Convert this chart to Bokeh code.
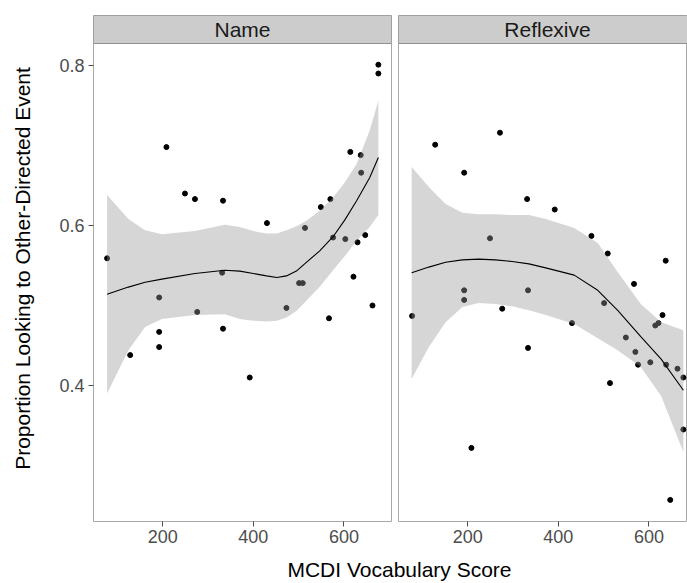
from bokeh.plotting import figure
from bokeh.models import Range1d, FixedTicker, Label
from bokeh.layouts import row, column
from bokeh.embed import file_html
from bokeh.resources import INLINE

FONT = "Liberation Sans"

# ---- data ----
vocab = [77, 128, 192, 192, 192, 208, 249, 271, 276, 331, 333, 333, 392, 430, 473, 501,
         509, 514, 549, 567, 570, 576, 603, 614, 621, 630, 637, 638, 647, 663, 676, 676]
name_prop = [0.559, 0.438, 0.510, 0.467, 0.448, 0.698, 0.640, 0.633, 0.492, 0.541, 0.631,
             0.471, 0.410, 0.603, 0.497, 0.528, 0.528, 0.597, 0.623, 0.484, 0.633, 0.585,
             0.583, 0.692, 0.536, 0.579, 0.688, 0.666, 0.588, 0.500, 0.801, 0.790]
refl_prop = [0.487, 0.701, 0.666, 0.519, 0.507, 0.322, 0.584, 0.716, 0.496, 0.633, 0.519,
             0.447, 0.620, 0.478, 0.587, 0.503, 0.565, 0.403, 0.460, 0.527, 0.442, 0.426,
             0.429, 0.475, 0.478, 0.488, 0.556, 0.426, 0.257, 0.421, 0.410, 0.345]

# smoother (fit and confidence band)
name_sx = [77, 124, 161, 198, 271, 337, 370, 400, 429, 452, 473, 495, 517, 546, 576, 602, 628, 657, 676]
name_fit = [0.514, 0.523, 0.529, 0.533, 0.540, 0.544, 0.543, 0.540, 0.537, 0.535, 0.537, 0.543, 0.554, 0.568, 0.586, 0.607, 0.631, 0.660, 0.685]
name_hi = [0.638, 0.608, 0.594, 0.589, 0.593, 0.601, 0.598, 0.593, 0.590, 0.590, 0.594, 0.599, 0.606, 0.618, 0.635, 0.654, 0.677, 0.719, 0.756]
name_lo = [0.390, 0.444, 0.473, 0.483, 0.488, 0.489, 0.483, 0.481, 0.480, 0.481, 0.485, 0.493, 0.506, 0.523, 0.544, 0.562, 0.581, 0.598, 0.613]

refl_sx = [76, 114, 151, 188, 224, 261, 298, 335, 372, 435, 487, 531, 582, 627, 676]
refl_fit = [0.541, 0.548, 0.554, 0.557, 0.558, 0.557, 0.555, 0.552, 0.547, 0.538, 0.519, 0.494, 0.461, 0.433, 0.394]
refl_hi = [0.673, 0.648, 0.627, 0.616, 0.614, 0.614, 0.613, 0.613, 0.608, 0.597, 0.578, 0.542, 0.502, 0.479, 0.469]
refl_lo = [0.408, 0.448, 0.479, 0.498, 0.503, 0.502, 0.499, 0.494, 0.488, 0.477, 0.459, 0.444, 0.423, 0.387, 0.317]

panels = ["Name", "Reflexive"]
x_ticks = [200, 400, 600]
y_ticks = [0.4, 0.6, 0.8]

# ---- layout constants ----
X0, X1 = 47, 705
Y0, YP, Y1 = 0.23, 0.8275, 0.8625
FW = 298
PXU = FW / (X1 - X0)
FH = 506
TICK_COL = "#4d4d4d"
TICK_FS = "18px"


def make_panel(title, props, sx, fit, lo, hi, left_axis, frame_w):
    x_end = X0 + frame_w / PXU
    p = figure(frame_width=frame_w, frame_height=FH,
               x_range=Range1d(X0, x_end), y_range=Range1d(Y0, Y1),
               output_backend="svg", toolbar_location=None,
               y_axis_location="left" if left_axis else None,
               min_border_top=15, min_border_bottom=34,
               min_border_left=93 if left_axis else 4,
               min_border_right=3 if left_axis else 0)
    p.grid.visible = False
    p.outline_line_color = "#a8a8a8"
    p.outline_line_width = 1
    p.background_fill_color = "white"
    p.border_fill_color = "white"

    p.scatter(vocab, props, size=5, color="black")
    p.varea(x=sx, y1=lo, y2=hi, fill_color="#999999", fill_alpha=0.4)
    p.line(sx, fit, line_color="black", line_width=1.1)

    # strip
    p.quad(left=X0, right=x_end, bottom=YP, top=Y1,
           fill_color="#cccccc", line_color="#8f8f8f", line_width=1)
    p.add_layout(Label(x=(X0 + X1) / 2, y=(YP + Y1) / 2, text=title,
                       text_align="center", text_baseline="middle",
                       text_font=FONT, text_font_size="21px", text_color="#1a1a1a"))

    xa = p.xaxis[0]
    xa.ticker = FixedTicker(ticks=x_ticks)
    xa.axis_line_color = None
    xa.major_tick_out = 5
    xa.major_tick_in = 0
    xa.minor_tick_out = 0
    xa.minor_tick_in = 0
    xa.major_tick_line_color = TICK_COL
    xa.major_label_text_font = FONT
    xa.major_label_text_font_size = TICK_FS
    xa.major_label_text_color = TICK_COL
    xa.major_label_standoff = 3

    if left_axis:
        ya = p.yaxis[0]
        ya.ticker = FixedTicker(ticks=y_ticks)
        ya.axis_line_color = None
        ya.major_tick_out = 5
        ya.major_tick_in = 0
        ya.minor_tick_out = 0
        ya.minor_tick_in = 0
        ya.major_tick_line_color = TICK_COL
        ya.major_label_text_font = FONT
        ya.major_label_text_font_size = TICK_FS
        ya.major_label_text_color = TICK_COL
        ya.major_label_standoff = 4
        ya.axis_label = "Proportion Looking to Other-Directed Event"
        ya.axis_label_text_font = FONT
        ya.axis_label_text_font_size = "21px"
        ya.axis_label_text_font_style = "normal"
        ya.axis_label_text_color = "black"
        ya.axis_label_standoff = 22
    return p


p1 = make_panel(panels[0], name_prop, name_sx, name_fit, name_lo, name_hi, True, FW)
p2 = make_panel(panels[1], refl_prop, refl_sx, refl_fit, refl_lo, refl_hi, False, 289)

lab = figure(frame_width=687, frame_height=28, x_range=Range1d(0, 687), y_range=Range1d(0, 28),
             output_backend="svg", toolbar_location=None, min_border=0,
             x_axis_location=None, y_axis_location=None)
lab.grid.visible = False
lab.outline_line_color = None
lab.add_layout(Label(x=399, y=14, text="MCDI Vocabulary Score", text_align="center",
                     text_baseline="middle", text_font=FONT, text_font_size="21px",
                     text_color="black"))

layout = column(row(p1, p2), lab)

with open("out.html", "w") as f:
    f.write(file_html(layout, INLINE))
